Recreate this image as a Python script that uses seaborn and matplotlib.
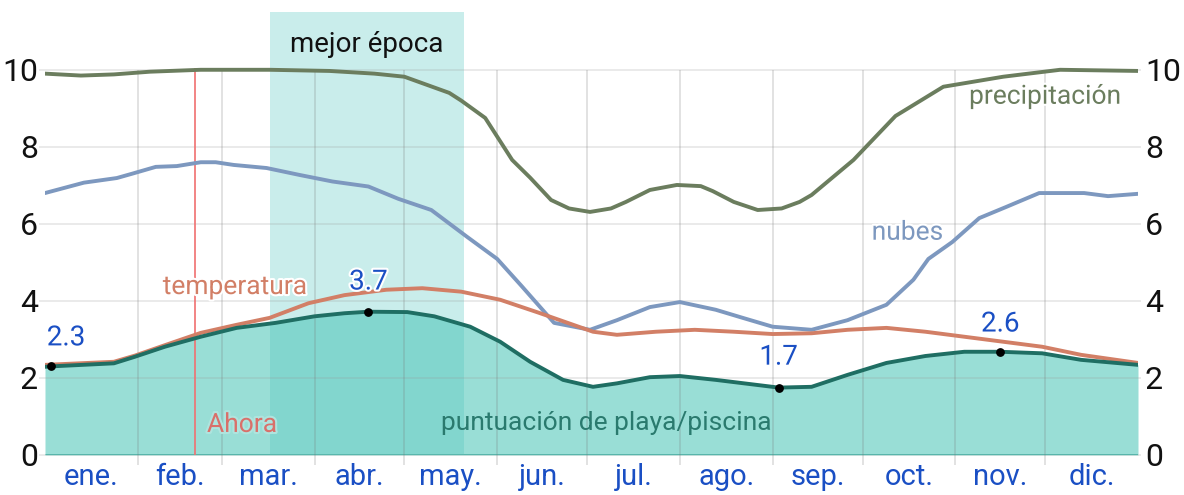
import numpy as np
import matplotlib
matplotlib.use("Agg")
import matplotlib.pyplot as plt
import matplotlib.patheffects as pe
import seaborn as sns

# month labels and lengths (x axis is day of year)
months = ['ene.', 'feb.', 'mar.', 'abr.', 'may.', 'jun.', 'jul.', 'ago.', 'sep.', 'oct.', 'nov.', 'dic.']
month_days = [31, 28, 31, 30, 31, 30, 31, 31, 30, 31, 30, 31]

# precipitación
precip_days = [0, 12, 23, 35, 52, 75, 95, 110, 120, 135, 139, 147, 156, 162, 169, 175, 182, 189,
               194, 202, 211, 219, 223, 230, 238, 246, 252, 256, 270, 284, 300, 320, 339, 365]
precip_vals = [9.9, 9.85, 9.88, 9.95, 10.0, 10.0, 9.97, 9.9, 9.82, 9.4, 9.2, 8.75, 7.66, 7.2, 6.62, 6.4,
               6.31, 6.4, 6.57, 6.88, 7.01, 6.98, 6.85, 6.57, 6.36, 6.4, 6.57, 6.75, 7.66, 8.8, 9.56,
               9.82, 10.0, 9.97]

# nubes
cloud_days = [0, 13, 24, 29, 37, 44, 52, 57, 63, 74, 85, 96, 108, 118, 129, 141, 151, 159, 170, 182,
              191, 202, 212, 224, 233, 243, 256, 268, 281, 290, 295, 303, 312, 321, 332, 347, 355, 365]
cloud_vals = [6.8, 7.07, 7.19, 7.3, 7.48, 7.5, 7.6, 7.6, 7.53, 7.45, 7.27, 7.1, 6.97, 6.65, 6.36, 5.66,
              5.09, 4.4, 3.43, 3.25, 3.5, 3.84, 3.97, 3.77, 3.56, 3.33, 3.25, 3.5, 3.9, 4.55, 5.09, 5.53,
              6.15, 6.44, 6.8, 6.8, 6.72, 6.78]

# temperatura
temp_days = [0, 23, 30, 40, 52, 64, 75, 88, 100, 114, 126, 139, 152, 165, 183, 191, 204, 217, 230,
             243, 256, 268, 281, 294, 307, 320, 333, 346, 365]
temp_vals = [2.34, 2.42, 2.58, 2.85, 3.17, 3.38, 3.56, 3.94, 4.15, 4.29, 4.33, 4.24, 4.03, 3.69, 3.2,
             3.12, 3.2, 3.25, 3.2, 3.14, 3.16, 3.25, 3.3, 3.2, 3.07, 2.94, 2.81, 2.6, 2.39]

# puntuación de playa/piscina
score_days = [0, 2, 23, 30, 40, 52, 64, 77, 90, 100, 108, 121, 130, 142, 152, 162, 173, 183, 191,
              202, 212, 224, 245, 256, 268, 281, 294, 307, 319, 333, 346, 365]
score_vals = [2.29, 2.3, 2.38, 2.55, 2.81, 3.07, 3.3, 3.43, 3.6, 3.68, 3.72, 3.71, 3.6, 3.33, 2.94,
              2.42, 1.95, 1.77, 1.86, 2.02, 2.05, 1.95, 1.75, 1.77, 2.08, 2.39, 2.57, 2.68, 2.68,
              2.64, 2.47, 2.34]

# marked extremes
peak_days = [2, 108, 245, 319]
peak_vals = [2.3, 3.72, 1.75, 2.68]
peak_labels = ['2.3', '3.7', '1.7', '2.6']

best_start, best_end = 75, 140
now_day = 50

sns.set_style("white")
plt.rcParams['font.family'] = ['Roboto', 'DejaVu Sans']

fig = plt.figure(figsize=(11.84, 4.95), dpi=100)
ax = fig.add_axes([45 / 1184, 40 / 495, 1093 / 1184, 443 / 495])

green = '#6b7d5e'
blue = '#7d98bf'
salmon = '#d27f66'
teal_dark = '#1f6e63'
label_blue = '#1a4fc4'

bounds = np.concatenate([[0], np.cumsum(month_days)])
centers = (bounds[:-1] + bounds[1:]) / 2

# score area
ax.fill_between(score_days, score_vals, 0, color='#99ded6', lw=0, zorder=1)
ax.hlines(0, 0, 365, color='#3fb8ac', lw=2, zorder=1.5)

# best season band
ax.axvspan(best_start, best_end, color='#4fc6bd', alpha=0.3, lw=0, zorder=2)

# grid
for v in range(0, 11, 2):
    ax.hlines(v, -2, 366, color='#999999', alpha=0.22, lw=1.3, zorder=2.5, clip_on=False)
for b in bounds[1:-1]:
    ax.vlines(b, -0.27, 10, color='#777777', alpha=0.25, lw=1.2, zorder=2.5, clip_on=False)

# now line
ax.vlines(now_day, 0, 10.05, color='#f07070', lw=1.2, zorder=2.6)

sns.lineplot(x=precip_days, y=precip_vals, ax=ax, color=green, lw=2.8, zorder=3)
sns.lineplot(x=cloud_days, y=cloud_vals, ax=ax, color=blue, lw=2.8, zorder=3)
sns.lineplot(x=temp_days, y=temp_vals, ax=ax, color=salmon, lw=2.8, zorder=3.1)
sns.lineplot(x=score_days, y=score_vals, ax=ax, color=teal_dark, lw=2.8, zorder=3.2)
ax.scatter(peak_days, peak_vals, color='black', s=28, zorder=4)

halo = [pe.withStroke(linewidth=3, foreground='white')]
offsets = [0.74, 0.77, 0.79, 0.72]
for d, v, t, o in zip(peak_days, peak_vals, peak_labels, offsets):
    dx = 5 if d < 10 else 0
    ax.text(d + dx, v + o, t, color=label_blue, fontsize=20, ha='center', va='center',
            path_effects=halo, zorder=5)

ax.text(107.5, 10.65, 'mejor época', fontsize=20, color='#111111', ha='center', va='center', zorder=5)
ax.text(334, 9.3, 'precipitación', fontsize=19, color=green, ha='center', va='center',
        path_effects=halo, zorder=5)
ax.text(288, 5.77, 'nubes', fontsize=19, color=blue, ha='center', va='center',
        path_effects=halo, zorder=5)
ax.text(63.4, 4.36, 'temperatura', fontsize=19, color=salmon, ha='center', va='center',
        path_effects=halo, zorder=5)
ax.text(65.8, 0.78, 'Ahora', fontsize=19, color='#d9706a', ha='center', va='center',
        path_effects=[pe.withStroke(linewidth=3, foreground='#aee4de')], zorder=5)
ax.text(187.6, 0.83, 'puntuación de playa/piscina', fontsize=19, color='#2a7a6e',
        ha='center', va='center', zorder=5)

ax.set_xlim(0, 365)
ax.set_ylim(0, 11.5)
ax.set_xticks(centers)
ax.set_xticklabels(months, color=label_blue, fontsize=21)
ax.set_yticks(range(0, 11, 2))
ax.set_yticklabels([str(v) for v in range(0, 11, 2)], fontsize=23, color='#111111')
ax.tick_params(axis='x', length=0, pad=6)
ax.tick_params(axis='y', length=0, pad=5, labelright=True)
for s in ax.spines.values():
    s.set_visible(False)
ax.set_xlabel('')
ax.set_ylabel('')

fig.savefig('out.png', dpi=100)
